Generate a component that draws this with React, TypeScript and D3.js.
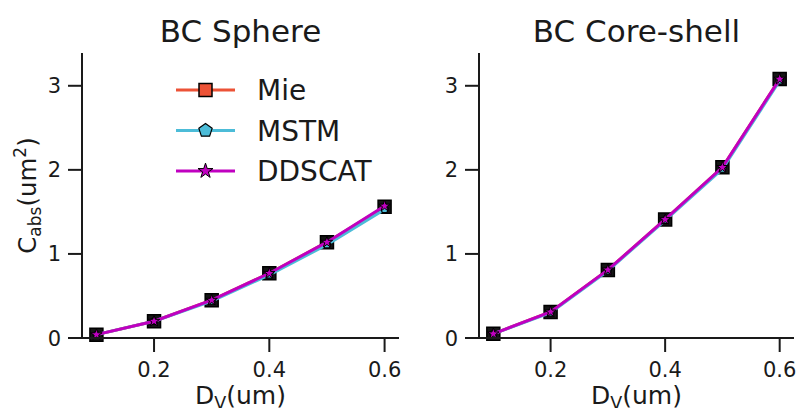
import React from 'react';
import * as d3 from 'd3';

// diameters (um)
const dv = [0.1, 0.2, 0.3, 0.4, 0.5, 0.6];

// BC sphere, C_abs (um^2)
const sphereMie = [0.04, 0.2, 0.45, 0.77, 1.14, 1.56];
const sphereMstm = [0.04, 0.2, 0.44, 0.75, 1.11, 1.53];
const sphereDdscat = [0.04, 0.2, 0.45, 0.77, 1.14, 1.57];

// BC core-shell, C_abs (um^2)
const coreMie = [0.05, 0.31, 0.81, 1.41, 2.03, 3.08];
const coreMstm = [0.05, 0.3, 0.8, 1.4, 2.01, 3.06];
const coreDdscat = [0.05, 0.31, 0.81, 1.41, 2.03, 3.08];

const xTicks = [0.2, 0.4, 0.6];
const yTicks = [0, 1, 2, 3];
const seriesNames = ['Mie', 'MSTM', 'DDSCAT'];
const colors = ['#ec5236', '#4cbcd8', '#c000c0'];

const FONT = '"DejaVu Sans", sans-serif';

const pentagon = (r: number) => {
  const pts = d3.range(5).map(i => {
    const a = -Math.PI / 2 + (i * 2 * Math.PI) / 5;
    return [r * Math.cos(a), r * Math.sin(a)];
  });
  return 'M' + pts.map(p => p.join(',')).join('L') + 'Z';
};
const square = (s: number) => `M${-s / 2},${-s / 2}h${s}v${s}h${-s}Z`;
const star = d3.symbol(d3.symbolStar, 40)()!;
const starLegend = d3.symbol(d3.symbolStar, 70)()!;

const Marker = ({ kind, x, y, legend }: { kind: number; x: number; y: number; legend?: boolean }) => {
  if (kind === 0)
    return <path d={square(13)} transform={`translate(${x},${y})`} fill={legend ? colors[0] : '#151515'} stroke="#000" strokeWidth={1.5} />;
  if (kind === 1)
    return <path d={pentagon(legend ? 7 : 4)} transform={`translate(${x},${y})`} fill={colors[1]} stroke="#000" strokeWidth={1.2} />;
  return <path d={legend ? starLegend : star} transform={`translate(${x},${y})`} fill={colors[2]} stroke="#000" strokeWidth={1} />;
};

type PanelProps = {
  left: number;
  right: number;
  title: string;
  series: number[][];
  yLabel?: boolean;
  legend?: boolean;
};

const top = 53;
const bottom = 338;

const Panel = ({ left, right, title, series, yLabel, legend }: PanelProps) => {
  const x = d3.scaleLinear().domain([0.075, 0.625]).range([left, right]);
  const y = d3.scaleLinear().domain([0, 3.39]).range([bottom, top]);
  const line = d3.line<number>().x((_, i) => x(dv[i])).y(d => y(d));
  const cx = (left + right) / 2;
  return (
    <g>
      <text x={cx} y={42} textAnchor="middle" fontSize={31} fontFamily={FONT} fill="#1a1a1a">{title}</text>
      {series.map((s, k) => (
        <g key={k}>
          <path d={line(s)!} fill="none" stroke={colors[k]} strokeWidth={3} />
          {s.map((v, i) => <Marker key={i} kind={k} x={x(dv[i])} y={y(v)} />)}
        </g>
      ))}
      <line x1={left} x2={left} y1={top} y2={bottom} stroke="#1a1a1a" strokeWidth={2} />
      <line x1={left} x2={right} y1={bottom} y2={bottom} stroke="#1a1a1a" strokeWidth={2} />
      {yTicks.map(t => (
        <g key={t}>
          <line x1={left - 14} x2={left} y1={y(t)} y2={y(t)} stroke="#1a1a1a" strokeWidth={2} />
          <text x={left - 21} y={y(t) + 7.5} textAnchor="end" fontSize={21} fontFamily={FONT} fill="#1a1a1a">{t}</text>
        </g>
      ))}
      {xTicks.map(t => (
        <g key={t}>
          <line x1={x(t)} x2={x(t)} y1={bottom} y2={bottom + 14} stroke="#1a1a1a" strokeWidth={2} />
          <text x={x(t)} y={377} textAnchor="middle" fontSize={21} fontFamily={FONT} fill="#1a1a1a">{t.toFixed(1)}</text>
        </g>
      ))}
      <text x={cx} y={404} textAnchor="middle" fontSize={25} fontFamily={FONT} fill="#1a1a1a">
        D<tspan fontSize={17.5} dy={5}>V</tspan><tspan dy={-5}>(um)</tspan>
      </text>
      {yLabel && (
        <text transform={`translate(36,${(top + bottom) / 2}) rotate(-90)`} textAnchor="middle" fontSize={24.5} fontFamily={FONT} fill="#1a1a1a">
          C<tspan fontSize={17} dy={5}>abs</tspan><tspan dy={-5}>(um</tspan><tspan fontSize={17} dy={-10}>2</tspan><tspan dy={10}>)</tspan>
        </text>
      )}
      {legend && seriesNames.map((n, k) => {
        const ly = 90 + k * 40.5;
        return (
          <g key={n}>
            <line x1={176} x2={235} y1={ly} y2={ly} stroke={colors[k]} strokeWidth={3} />
            <Marker kind={k} x={205.5} y={ly} legend />
            <text x={257} y={ly + 10} fontSize={28} fontFamily={FONT} fill="#1a1a1a">{n}</text>
          </g>
        );
      })}
    </g>
  );
};

export default function App() {
  return (
    <svg width={796} height={408} style={{ position: 'absolute', left: 0, top: 0, background: '#fff' }}>
      <rect width={796} height={408} fill="#fff" />
      <Panel left={82} right={399} title="BC Sphere" series={[sphereMie, sphereMstm, sphereDdscat]} yLabel legend />
      <Panel left={479} right={794} title="BC Core-shell" series={[coreMie, coreMstm, coreDdscat]} />
    </svg>
  );
}
